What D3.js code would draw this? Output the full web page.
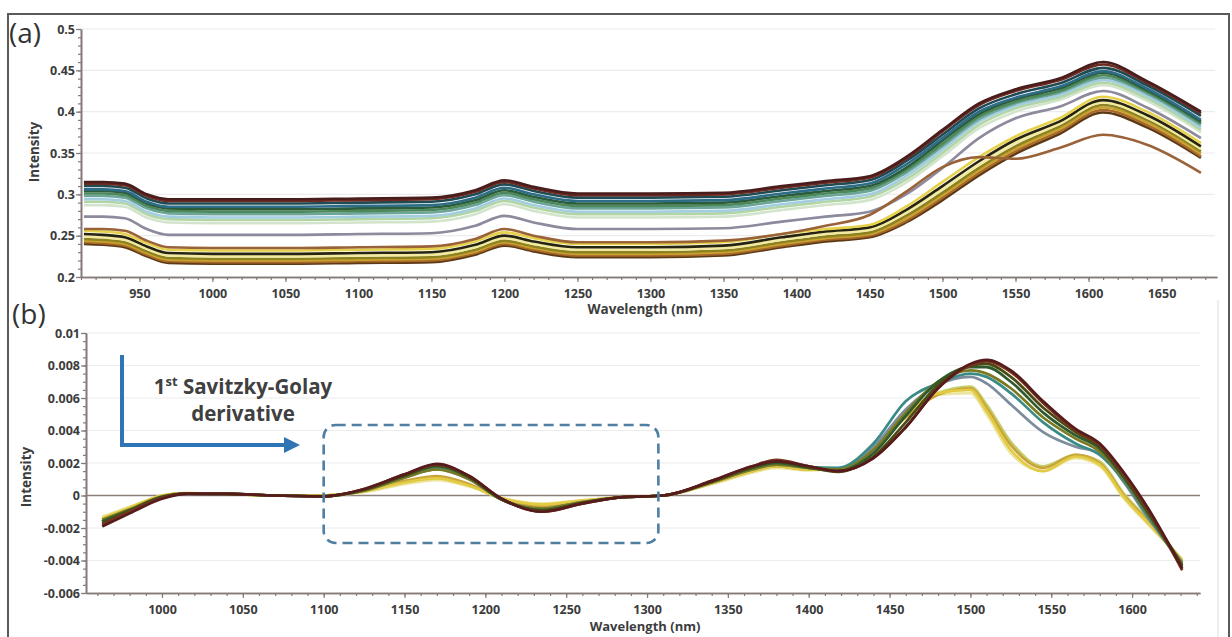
<!DOCTYPE html>
<html><head><meta charset="utf-8">
<script src="https://cdn.jsdelivr.net/npm/d3@7"></script>
<style>body{margin:0;background:#fff;} svg{display:block}</style>
</head><body>
<svg id="c" width="1232" height="637"></svg>
<script>
// ---------------- DATA: panel (a) raw spectra ----------------
const topWavelengths = [912,925,940,955,970,1000,1050,1100,1150,1180,1200,1220,1250,1300,1350,1390,1420,1450,1475,1500,1525,1550,1580,1610,1640,1677];
const topMaroon   = [.315,.315,.313,.300,.294,.294,.294,.295,.296,.305,.317,.309,.301,.301,.302,.310,.316,.322,.345,.378,.410,.427,.440,.460,.437,.400];
const topBrownRed = [.313,.313,.311,.298,.292,.292,.292,.293,.294,.303,.315,.307,.299,.299,.300,.308,.314,.320,.343,.376,.408,.425,.438,.457,.435,.398];
const topDarkTeal = [.310,.310,.308,.295,.289,.289,.289,.290,.291,.300,.312,.304,.296,.296,.297,.305,.311,.317,.340,.372,.404,.421,.434,.453,.432,.395];
const topBlueTeal = [.306,.306,.304,.291,.285,.285,.285,.286,.287,.296,.308,.300,.292,.292,.293,.301,.307,.313,.336,.368,.400,.417,.430,.449,.428,.390];
const topDarkGreen= [.304,.304,.302,.289,.283,.282,.282,.283,.284,.293,.305,.297,.289,.289,.290,.298,.304,.310,.332,.365,.397,.415,.428,.447,.426,.388];
const topGreen    = [.301,.301,.299,.286,.280,.279,.279,.280,.281,.290,.302,.294,.286,.286,.287,.295,.301,.307,.329,.361,.394,.412,.425,.444,.424,.386];
const topTealLight= [.298,.298,.296,.283,.277,.276,.276,.277,.278,.287,.299,.291,.283,.283,.284,.292,.298,.304,.326,.358,.391,.410,.423,.441,.422,.384];
const topLightBlue= [.294,.294,.292,.279,.273,.272,.272,.273,.274,.283,.295,.287,.279,.279,.280,.288,.294,.300,.322,.354,.388,.407,.420,.438,.419,.381];
const topLightGrn = [.291,.291,.289,.276,.270,.269,.269,.270,.271,.280,.292,.284,.276,.276,.277,.285,.291,.297,.318,.350,.384,.404,.417,.435,.416,.378];
const topPale     = [.287,.287,.285,.272,.266,.265,.265,.266,.267,.276,.288,.280,.272,.272,.273,.281,.287,.293,.314,.346,.380,.400,.414,.432,.413,.375];
const topGrey     = [.273,.273,.271,.258,.251,.251,.251,.252,.253,.262,.274,.266,.258,.258,.259,.267,.273,.279,.300,.332,.368,.392,.406,.425,.405,.368];
const topOddBrown = [.258,.258,.256,.244,.236,.235,.235,.236,.237,.246,.258,.250,.242,.242,.244,.252,.262,.275,.303,.333,.345,.343,.356,.372,.360,.326];
const topYellow   = [.256,.255,.252,.241,.233,.232,.232,.233,.234,.243,.254,.247,.240,.240,.242,.252,.258,.263,.285,.315,.345,.370,.392,.418,.400,.362];
const topBlack    = [.252,.251,.248,.237,.229,.228,.228,.229,.230,.239,.250,.243,.236,.236,.238,.248,.255,.260,.281,.310,.340,.366,.388,.414,.396,.358];
const topPaleYel  = [.249,.248,.245,.234,.226,.225,.225,.226,.227,.236,.247,.240,.233,.233,.235,.245,.252,.257,.278,.306,.336,.362,.385,.411,.393,.355];
const topOlive    = [.246,.245,.242,.231,.223,.222,.222,.223,.224,.233,.244,.237,.230,.230,.232,.242,.249,.254,.274,.302,.332,.358,.382,.408,.390,.352];
const topGold     = [.244,.243,.240,.229,.221,.220,.220,.221,.222,.231,.242,.235,.228,.228,.230,.240,.247,.252,.271,.299,.329,.355,.379,.405,.387,.349];
const topOrange   = [.242,.241,.238,.227,.219,.218,.218,.219,.220,.229,.240,.233,.226,.226,.228,.238,.245,.250,.268,.296,.326,.352,.376,.402,.384,.346];
const topDarkBrown= [.240,.239,.236,.225,.217,.216,.216,.217,.218,.227,.238,.231,.224,.224,.226,.236,.243,.248,.266,.293,.323,.349,.373,.399,.381,.344];

const topXTicks = [950,1000,1050,1100,1150,1200,1250,1300,1350,1400,1450,1500,1550,1600,1650];
const topYTicks = [0.2,0.25,0.3,0.35,0.4,0.45,0.5];
const topYLabels = ["0.2","0.25","0.3","0.35","0.4","0.45","0.5"];

// ---------------- DATA: panel (b) 1st derivative (values in units of 0.001) ----------------
const botWavelengths = [963,980,1000,1015,1040,1070,1100,1125,1150,1170,1190,1210,1235,1260,1285,1310,1340,1365,1380,1400,1418,1440,1460,1480,1500,1510,1525,1545,1565,1580,1595,1610,1631];
const dMaroon   = [-1.9,-1.1,-0.2,0.1,0.1,0.0,-0.05,0.4,1.3,1.95,1.2,-0.2,-1.0,-0.5,-0.1,0.0,0.9,1.8,2.1,1.8,1.5,2.3,4.2,6.6,8.1,8.35,7.7,5.8,4.1,3.2,1.4,-0.8,-4.5];
const dBrown    = [-1.8,-1.0,-0.15,0.12,0.1,0.0,-0.05,0.4,1.3,1.9,1.2,-0.2,-1.0,-0.5,-0.1,0.0,0.9,1.8,2.2,1.8,1.5,2.3,4.2,6.6,8.0,8.25,7.6,5.7,4.0,3.1,1.3,-0.9,-4.6];
const dDarkOlive= [-1.7,-0.95,-0.1,0.12,0.1,0.0,-0.05,0.35,1.25,1.85,1.15,-0.2,-0.95,-0.45,-0.1,0.0,0.85,1.75,2.1,1.75,1.45,2.4,4.5,6.8,8.0,8.1,7.3,5.4,3.9,3.0,1.2,-1.0,-4.3];
const dDarkGreen= [-1.6,-0.9,-0.1,0.12,0.1,0.0,-0.05,0.35,1.2,1.8,1.1,-0.25,-0.9,-0.45,-0.1,0.0,0.85,1.7,2.0,1.7,1.5,2.6,4.9,7.0,7.9,7.9,7.0,5.1,3.7,2.9,1.1,-1.1,-4.4];
const dOlive    = [-1.5,-0.85,-0.05,0.13,0.1,0.0,-0.03,0.3,1.1,1.6,1.0,-0.25,-0.8,-0.4,-0.1,0.0,0.8,1.6,1.9,1.7,1.6,2.8,5.1,7.0,7.7,7.5,6.6,4.8,3.5,2.7,1.0,-1.2,-4.2];
const dTeal     = [-1.6,-0.9,-0.1,0.12,0.1,0.0,-0.05,0.35,1.2,1.7,1.05,-0.25,-0.85,-0.45,-0.1,0.0,0.85,1.7,2.0,1.75,1.7,3.2,5.8,6.9,7.5,7.3,6.3,4.5,3.2,2.5,0.9,-1.3,-4.3];
const dGreyBlue = [-1.6,-0.9,-0.1,0.12,0.1,0.0,-0.05,0.3,1.1,1.6,1.0,-0.25,-0.8,-0.4,-0.1,0.0,0.8,1.6,1.9,1.7,1.6,3.0,5.3,6.8,7.3,6.9,5.6,3.9,3.0,2.6,0.8,-1.4,-4.1];
const dYellow   = [-1.4,-0.75,0.0,0.15,0.1,0.0,0.0,0.25,0.8,1.05,0.6,-0.15,-0.55,-0.3,-0.1,0.0,0.75,1.5,1.8,1.6,1.6,3.0,5.0,6.3,6.5,5.2,2.8,1.5,2.4,1.9,-0.1,-1.7,-4.0];
const dPaleYel  = [-1.3,-0.7,0.0,0.15,0.1,0.0,0.0,0.2,0.7,0.95,0.55,-0.15,-0.5,-0.3,-0.1,0.0,0.7,1.4,1.7,1.55,1.6,2.9,4.9,6.2,6.3,5.0,2.6,1.5,2.3,1.8,-0.2,-1.8,-3.9];
const dGold     = [-1.5,-0.8,-0.05,0.14,0.1,0.0,0.0,0.3,0.9,1.2,0.7,-0.2,-0.65,-0.35,-0.1,0.0,0.75,1.5,1.8,1.6,1.6,2.9,4.8,6.2,6.6,5.4,3.1,1.7,2.5,2.0,0.0,-1.6,-4.1];
const dYelGreen = [-1.45,-0.8,-0.05,0.14,0.1,0.0,0.0,0.28,0.85,1.1,0.65,-0.2,-0.6,-0.35,-0.1,0.0,0.75,1.5,1.8,1.6,1.6,3.0,4.9,6.3,6.7,5.6,3.3,1.8,2.5,2.1,0.1,-1.5,-4.0];

const botXTicks = [1000,1050,1100,1150,1200,1250,1300,1350,1400,1450,1500,1550,1600];
const botYTicks = [-6,-4,-2,0,2,4,6,8,10];
const botYLabels = ["-0.006","-0.004","-0.002","0","0.002","0.004","0.006","0.008","0.01"];

// ---------------- styles ----------------
const topStyles = [
  [topPale,"#d3e4cc"],[topLightGrn,"#b3d5a3"],[topLightBlue,"#a3cde0"],[topTealLight,"#6ca69a"],
  [topGreen,"#4e895c"],[topDarkGreen,"#2c5d3b"],[topBlueTeal,"#2e6d88"],[topDarkTeal,"#1e4b54"],
  [topBrownRed,"#6e2b22"],[topMaroon,"#4a1d1d"],[topGrey,"#8c8a9c"],
  [topDarkBrown,"#5c3a14"],[topOrange,"#a8682c"],[topGold,"#c9a22e"],[topOlive,"#8c8222"],
  [topPaleYel,"#f2eaa0"],[topBlack,"#26240f"],[topYellow,"#e6d24a"],[topOddBrown,"#9a6238"]
];
const botStyles = [
  [dPaleYel,"#ece5a0"],[dYelGreen,"#c6cf6e"],[dGold,"#c8a43a"],[dYellow,"#e2cb42"],
  [dGreyBlue,"#7d8c9c"],[dTeal,"#3a8a86"],[dOlive,"#7a7a20"],[dDarkGreen,"#2e5a2e"],
  [dDarkOlive,"#4a4a12"],[dBrown,"#7a3420"],[dMaroon,"#561c1c"]
];

const FONT = "'Open Sans','DejaVu Sans',sans-serif";
const svg = d3.select("#c");
const axisColor = "#857a78";
const textColor = "#3c3c3c";

// outer frame
svg.append("rect").attr("x",8).attr("y",14).attr("width",1221).attr("height",640)
  .attr("fill","none").attr("stroke","#5a5a5a").attr("stroke-width",2);
svg.append("line").attr("x1",1218).attr("x2",1218).attr("y1",300).attr("y2",637)
  .attr("stroke","#dddddd").attr("stroke-width",1);

function drawPanel(cfg) {
  const g = svg.append("g");
  const x = d3.scaleLinear().domain(cfg.xDomain).range(cfg.xRange);
  const y = d3.scaleLinear().domain(cfg.yDomain).range(cfg.yRange);
  // grid
  g.append("g").selectAll("line").data(cfg.yTicks.slice(1)).join("line")
    .attr("x1",cfg.xRange[0]).attr("x2",cfg.gridEnd).attr("y1",d=>y(d)).attr("y2",d=>y(d))
    .attr("stroke","#ececec").attr("stroke-width",1.2);
  if (cfg.zeroLine) {
    g.append("line").attr("x1",cfg.xRange[0]).attr("x2",cfg.gridEnd).attr("y1",y(0)).attr("y2",y(0))
      .attr("stroke","#8c7f7a").attr("stroke-width",1.6);
  }
  // lines
  const line = d3.line().x((d,i)=>x(cfg.wl[i])).y(d=>y(d)).curve(d3.curveMonotoneX);
  g.append("g").selectAll("path").data(cfg.series).join("path")
    .attr("d",d=>line(d[0])).attr("fill","none").attr("stroke",d=>d[1])
    .attr("stroke-width",cfg.lineWidth).attr("stroke-linejoin","round");
  // axes: minor
  const y0 = cfg.yRange[0];
  const minorX = d3.axisBottom(x).tickValues(cfg.xMinor).tickSize(3).tickFormat("").tickSizeOuter(0);
  const minorY = d3.axisLeft(y).tickValues(cfg.yMinor).tickSize(3).tickFormat("").tickSizeOuter(0);
  g.append("g").attr("transform",`translate(0,${y0})`).call(minorX);
  g.append("g").attr("transform",`translate(${cfg.xRange[0]},0)`).call(minorY);
  const xa = d3.axisBottom(x).tickValues(cfg.xTicks).tickFormat(d3.format("d")).tickSize(5).tickSizeOuter(0).tickPadding(cfg.xPad);
  const ya = d3.axisLeft(y).tickValues(cfg.yTicks).tickFormat((d,i)=>cfg.yLabels[i]).tickSize(5).tickSizeOuter(0).tickPadding(1);
  g.append("g").attr("transform",`translate(0,${y0})`).call(xa);
  g.append("g").attr("transform",`translate(${cfg.xRange[0]},0)`).call(ya);
  g.selectAll(".domain").attr("stroke",axisColor).attr("stroke-width",1.6);
  g.selectAll(".tick line").attr("stroke",axisColor).attr("stroke-width",1.2);
  g.selectAll(".tick text").attr("font-family",FONT).attr("font-weight","bold")
    .attr("font-size",12.5).attr("fill",textColor);
  // titles
  g.append("text").attr("x",645).attr("y",cfg.xTitleY).attr("text-anchor","middle")
    .attr("font-family",FONT).attr("font-weight","bold").attr("font-size",cfg.xTitleSize).attr("fill",textColor)
    .text("Wavelength (nm)");
  g.append("text").attr("transform",`translate(${cfg.yTitleX},${cfg.yTitleY}) rotate(-90)`)
    .attr("text-anchor","middle").attr("font-family",FONT).attr("font-weight","bold")
    .attr("font-size",13.5).attr("fill",textColor).text("Intensity");
  g.append("text").attr("x",cfg.tagX).attr("y",cfg.tagY).attr("font-family",FONT)
    .attr("font-size",28).attr("fill","#333").text(cfg.tag);
  return {x,y};
}

drawPanel({
  wl: topWavelengths, series: topStyles, lineWidth: 2.6,
  xDomain:[910,1688], xRange:[81,1217], yDomain:[0.2,0.5], yRange:[277,29], gridEnd:1215,
  xTicks: topXTicks, xMinor: d3.range(910,1690,10), yTicks: topYTicks, yLabels: topYLabels,
  yMinor: d3.range(0.2,0.5001,0.01), xPad: 7, xTitleY: 314, xTitleSize: 13.5, yTitleX: 39, yTitleY: 152,
  tag: "(a)", tagX: 9, tagY: 43
});

const pb = drawPanel({
  wl: botWavelengths, series: botStyles, lineWidth: 2.7, zeroLine: true,
  xDomain:[953,1642], xRange:[86,1200], yDomain:[-6,10], yRange:[593,333], gridEnd:1200,
  xTicks: botXTicks, xMinor: d3.range(960,1642,10), yTicks: botYTicks, yLabels: botYLabels,
  yMinor: d3.range(-6,10.01,0.5), xPad: 7, xTitleY: 631, xTitleSize: 13, yTitleX: 31, yTitleY: 477,
  tag: "(b)", tagX: 12, tagY: 324
});

// ---------------- annotations ----------------
const blue = "#2f74b5";
svg.append("path").attr("d","M122,355 L122,445 L286,445")
  .attr("fill","none").attr("stroke",blue).attr("stroke-width",4);
svg.append("path").attr("d","M284,437 L300,445 L284,453 Z").attr("fill",blue);

const t1 = svg.append("text").attr("x",243).attr("y",394).attr("text-anchor","middle")
  .attr("font-family",FONT).attr("font-weight","bold").attr("font-size",20.5).attr("fill","#404040");
t1.append("tspan").text("1");
t1.append("tspan").attr("font-size",13).attr("dy",-8).text("st");
t1.append("tspan").attr("dy",8).text(" Savitzky-Golay");
svg.append("text").attr("x",243).attr("y",421).attr("text-anchor","middle")
  .attr("font-family",FONT).attr("font-weight","bold").attr("font-size",20.5).attr("fill","#404040")
  .text("derivative");

// dashed box spanning 1100-1307 nm
svg.append("rect").attr("x",pb.x(1100)).attr("y",425).attr("width",pb.x(1307)-pb.x(1100)).attr("height",118)
  .attr("rx",12).attr("fill","none").attr("stroke","#4f7fa3").attr("stroke-width",2.6)
  .attr("stroke-dasharray","10,6");
</script>
</body></html>
